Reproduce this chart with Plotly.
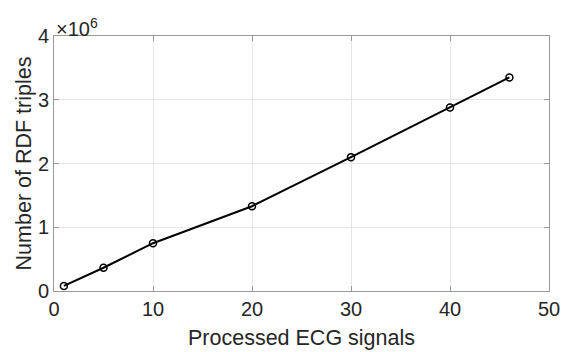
import plotly.graph_objects as go

signals = [1, 5, 10, 20, 30, 40, 46]
triples = [80000, 365000, 750000, 1330000, 2100000, 2880000, 3350000]
y_ticks = [0, 1000000, 2000000, 3000000, 4000000]
y_tick_labels = ["0", "1", "2", "3", "4"]
x_ticks = [0, 10, 20, 30, 40, 50]

tick_font = dict(family="Liberation Sans, Arial, sans-serif", size=20, color="#262626")
title_font = dict(family="Liberation Sans, Arial, sans-serif", size=21.5, color="#262626")

fig = go.Figure()
fig.add_trace(go.Scatter(
    x=signals, y=triples, mode="lines+markers",
    line=dict(color="black", width=2),
    marker=dict(symbol="circle-open", size=7, color="black", line=dict(width=1.5)),
    showlegend=False,
))

axis_common = dict(
    showline=True, linecolor="#999999", linewidth=1, mirror="all",
    ticks="inside", ticklen=5, tickcolor="#999999",
    showgrid=True, gridcolor="#e6e6e6", gridwidth=1, zeroline=False,
    tickfont=tick_font, automargin=False,
)
fig.update_xaxes(range=[0, 50], tickvals=x_ticks,
                 title=dict(text="Processed ECG signals", font=title_font, standoff=10),
                 **axis_common)
fig.update_yaxes(range=[0, 4000000], tickvals=y_ticks, ticktext=y_tick_labels,
                 title=dict(text="Number of RDF triples", font=title_font, standoff=0),
                 **axis_common)

fig.add_annotation(xref="paper", yref="paper", x=0, y=1, xanchor="left", yanchor="bottom",
                   text="×10<sup>6</sup>", showarrow=False, font=tick_font, yshift=-6)

# page body has an 8px default margin; size the figure to fit the 569x352 window
fig.update_layout(
    width=561, height=344,
    margin=dict(l=46, r=20, t=28, b=61),
    plot_bgcolor="white", paper_bgcolor="white",
)
fig.write_html("out.html")
